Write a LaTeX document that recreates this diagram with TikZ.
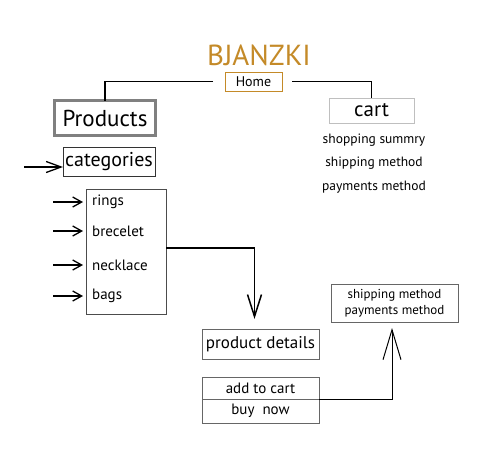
\documentclass[tikz,border=0pt]{standalone}
\usepackage{fontspec}
\setmainfont{PT Sans}
\usetikzlibrary{arrows.meta}
\definecolor{brand}{HTML}{C48A28}

\begin{document}
\begin{tikzpicture}[
  x=1pt, y=-1pt,
  box/.style 2 args={
    draw=#1,
    line width=#2,
    inner sep=0pt,
    outer sep=0pt},
  link/.style={line width=1.5pt},
  pointer/.style={line width=1.3pt,-{Straight Barb[length=9pt,width=10pt,line width=1.3pt]}}]
  \useasboundingbox[fill=white] (0,0) rectangle (496,472);
  % title and home box
  \node[text=brand,font=\fontsize{29}{29}\selectfont] (title) at (259,55) {BJANZKI};
  \node[box={brand}{1pt},minimum width=57pt,minimum height=19pt,font=\fontsize{14}{14}\selectfont] (home) at (253.5,81.5) {Home};
  % top level pages
  \node[box={gray}{3pt},minimum width=101pt,minimum height=35pt,font=\fontsize{23}{23}\selectfont] (products) at (105,118) {Products};
  \node[box={gray!50}{1pt},minimum width=85pt,minimum height=25pt,font=\fontsize{21}{21}\selectfont] (cart) at (371.5,110.5) {cart};
  \draw[link] ([xshift=-12pt]home.west) -| (products.north);
  \draw[link] ([xshift=10pt]home.east) -| (cart.north);
  % cart contents
  \foreach \t [count=\i from 0] in {shopping summry,shipping method,payments method}
    \node[font=\fontsize{13.5}{13.5}\selectfont] (cartitem\i) at (374,140+23.5*\i) {\t};
  % categories
  \node[box={black!80}{0.8pt},minimum width=92pt,minimum height=29pt,font=\fontsize{20}{20}\selectfont] (categories) at (109,161.5) {categories};
  \coordinate (cattail) at (24,167);
  \draw[line width=1.3pt,-{Straight Barb[length=15pt,width=11pt,line width=1.3pt]}] (cattail) -- (cattail -| categories.west);
  % category list
  \node[box={black!70}{0.8pt},minimum width=80pt,minimum height=125pt] (list) at (126,251.5) {};
  \foreach \t/\y [count=\i] in {rings/202,brecelet/231,necklace/265,bags/296} {
    \node[anchor=west,inner sep=0pt,font=\fontsize{15}{15}\selectfont] (item\i) at (92,\y) {\t};
    \coordinate (tail\i) at (53,\y);
    \draw[pointer] (tail\i) -- ([xshift=-9pt]item\i.west);
  }
  % product details and buttons
  \node[box={black!60}{0.8pt},minimum width=117pt,minimum height=30pt,font=\fontsize{17}{17}\selectfont] (details) at (260.5,344) {product details};
  \node[box={black!60}{0.8pt},minimum width=117pt,minimum height=22pt,font=\fontsize{15}{15}\selectfont] (addcart) at (260.5,388) {add to cart};
  \node[box={black!60}{0.8pt},minimum width=117pt,minimum height=24pt,font=\fontsize{15}{15}\selectfont] (buynow) at (260.5,411) {buy\ \ now};
  \draw[link,shorten >=10pt,-{Straight Barb[length=22pt,width=14pt,line width=1.5pt]}]
    ([yshift=3.5pt]list.east) -| ([xshift=-6pt]details.north);
  % checkout box
  \node[box={black!60}{0.8pt},minimum width=127pt,minimum height=38pt,align=center,font=\fontsize{13}{16}\selectfont] (checkout) at (394.5,303) {shipping method\\payments method};
  \draw[line width=1pt,shorten >=6pt,-{Straight Barb[length=30pt,width=18pt,line width=1pt]}]
    (addcart.south east) -| ([xshift=-2.5pt]checkout.south);
\end{tikzpicture}
\end{document}
